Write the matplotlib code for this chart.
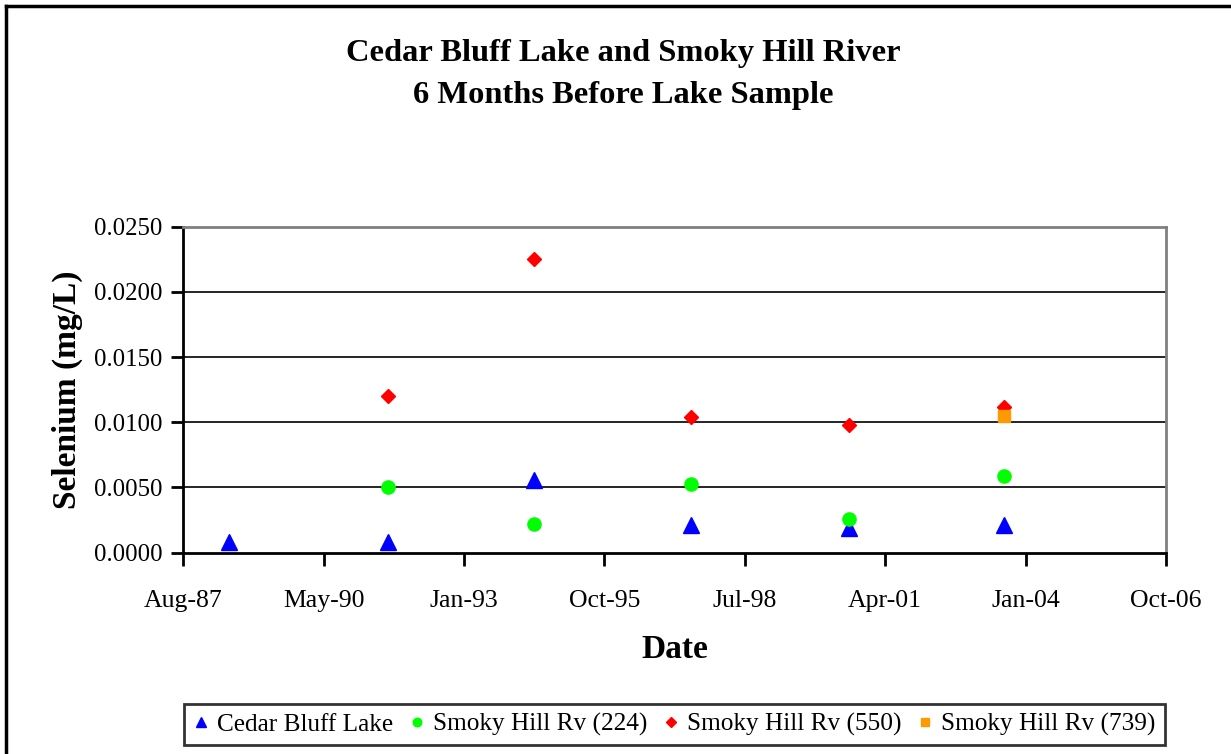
import datetime as dt
import matplotlib
matplotlib.use("Agg")
import matplotlib.pyplot as plt
import matplotlib.dates as mdates
from matplotlib.lines import Line2D

plt.rcParams["font.family"] = ["Liberation Serif", "DejaVu Serif"]

# sample dates
cedar_dates = ["1988-07-05", "1991-08-07", "1994-06-15", "1997-07-03", "2000-08-05", "2003-08-15"]
cedar_se = [0.0008, 0.0008, 0.0056, 0.0021, 0.0019, 0.0021]

rv224_dates = ["1991-08-07", "1994-06-15", "1997-07-03", "2000-08-05", "2003-08-15"]
rv224_se = [0.0050, 0.0022, 0.0053, 0.0026, 0.0059]

rv550_dates = ["1991-08-07", "1994-06-15", "1997-07-03", "2000-08-05", "2003-08-15"]
rv550_se = [0.0120, 0.0225, 0.0104, 0.0098, 0.0112]

rv739_dates = ["2003-08-15"]
rv739_se = [0.0105]


def to_num(dates):
    return [mdates.date2num(dt.datetime.strptime(d, "%Y-%m-%d")) for d in dates]


fig = plt.figure(figsize=(12.31, 7.54), dpi=100)
ax = fig.add_axes([0.1489, 0.2670, 0.7983, 0.4323])

ax.plot(to_num(cedar_dates), cedar_se, ls="none", marker="^", ms=11, color="#0000FF", label="Cedar Bluff Lake")
ax.plot(to_num(rv224_dates), rv224_se, ls="none", marker="o", ms=9.5, color="#00FF00", label="Smoky Hill Rv (224)")
ax.plot(to_num(rv550_dates), rv550_se, ls="none", marker="D", ms=7.5, color="#FF0000", label="Smoky Hill Rv (550)")
ax.plot(to_num(rv739_dates), rv739_se, ls="none", marker="s", ms=8, color="#FF9900", label="Smoky Hill Rv (739)")

# excel style date axis: 1000 day steps
start = mdates.date2num(dt.datetime(1987, 8, 11))
ax.set_xlim(start, start + 7000)
ax.set_xticks([start + 1000 * i for i in range(8)])
ax.xaxis.set_major_formatter(mdates.DateFormatter("%b-%y"))

ax.set_ylim(0, 0.025)
ax.set_yticks([0.005 * i for i in range(6)])
ax.yaxis.set_major_formatter(plt.FuncFormatter(lambda v, p: "%.4f" % v))

for y in [0.005, 0.010, 0.015, 0.020]:
    ax.axhline(y, color="black", lw=1.2, zorder=0)

for s in ["left", "bottom"]:
    ax.spines[s].set_color("black")
    ax.spines[s].set_linewidth(2)
for s in ["top", "right"]:
    ax.spines[s].set_color("#808080")
    ax.spines[s].set_linewidth(2)

ax.tick_params(axis="both", direction="out", length=9, width=2)
ax.tick_params(axis="x", pad=18, labelsize=18.5)
ax.tick_params(axis="y", pad=6, labelsize=17.8)

ax.set_xlabel("Date", fontsize=24, fontweight="bold", labelpad=16)
ax.set_ylabel("Selenium (mg/L)", fontsize=24, fontweight="bold", labelpad=8)

fig.text(0.506, 1 - 54 / 754, "Cedar Bluff Lake and Smoky Hill River", ha="center", va="center",
         fontsize=23.4, fontweight="bold")
fig.text(0.506, 1 - 96 / 754, "6 Months Before Lake Sample", ha="center", va="center",
         fontsize=23.4, fontweight="bold")

leg = fig.legend(loc="center", bbox_to_anchor=(674.5 / 1231, 1 - 724.5 / 754), ncol=4,
                 fontsize=18.2, frameon=True, fancybox=False, handlelength=0.6,
                 handletextpad=0.35, columnspacing=0.62, borderpad=0.35, markerscale=0.65)
leg.get_frame().set_edgecolor("black")
leg.get_frame().set_linewidth(2)

# chart area border (top and left visible)
fig.add_artist(Line2D([6 / 1231, 6 / 1231], [0, 1 - 6 / 754], transform=fig.transFigure, color="black", lw=2.5))
fig.add_artist(Line2D([6 / 1231, 1], [1 - 6 / 754, 1 - 6 / 754], transform=fig.transFigure, color="black", lw=2.5))

fig.savefig("out.png", dpi=100)
